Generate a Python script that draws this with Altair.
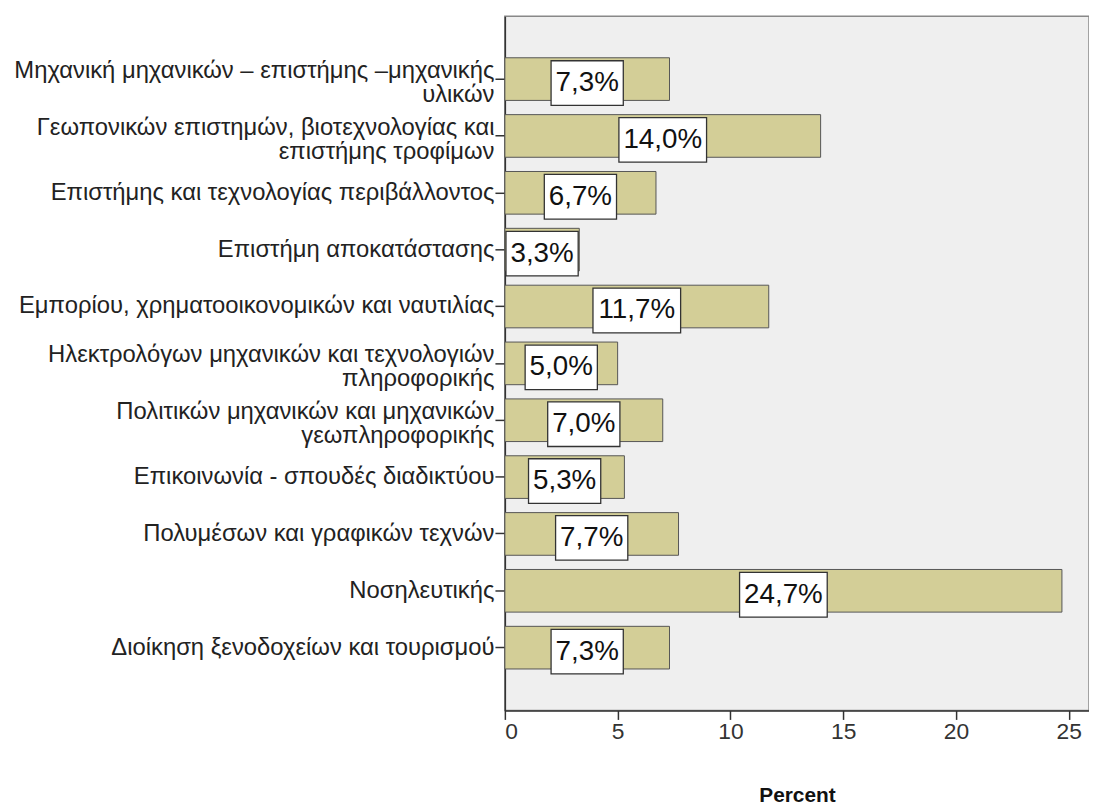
import altair as alt
import pandas as pd

categories = [
    "Μηχανική μηχανικών – επιστήμης –μηχανικής|υλικών",
    "Γεωπονικών επιστημών, βιοτεχνολογίας και|επιστήμης τροφίμων",
    "Επιστήμης και τεχνολογίας περιβάλλοντος",
    "Επιστήμη αποκατάστασης",
    "Εμπορίου, χρηματοοικονομικών και ναυτιλίας",
    "Ηλεκτρολόγων μηχανικών και τεχνολογιών|πληροφορικής",
    "Πολιτικών μηχανικών και μηχανικών|γεωπληροφορικής",
    "Επικοινωνία - σπουδές διαδικτύου",
    "Πολυμέσων και γραφικών τεχνών",
    "Νοσηλευτικής",
    "Διοίκηση ξενοδοχείων και τουρισμού",
]
percents = [7.3, 14.0, 6.7, 3.3, 11.7, 5.0, 7.0, 5.3, 7.7, 24.7, 7.3]
x_ticks = [0, 5, 10, 15, 20, 25]

df = pd.DataFrame({"cat": categories, "pct": percents})

W = 589
XMAX = 25.9
FS = 28

y_enc = alt.Y(
    "cat:N",
    sort=categories,
    scale=alt.Scale(paddingInner=0.25, paddingOuter=0.73),
    axis=alt.Axis(
        title=None,
        labelExpr="split(datum.label, '|')",
        labelFont="Liberation Sans",
        labelFontSize=24,
        labelColor="#222",
        labelLimit=700,
        labelPadding=1,
        labelLineHeight=24,
        labelOffset={"condition": {"test": "indexof(datum.value, '|') >= 0", "value": -8}, "value": 0},
        tickSize=10,
        tickColor="#333",
        tickWidth=1.5,
        domainColor="#333",
        domainWidth=1.5,
    ),
)

x_scale = alt.Scale(domain=[0, XMAX], nice=False, zero=True)

base = alt.Chart(df).transform_calculate(
    label="replace(format(datum.pct, '.1f'), '.', ',') + '%'",
).transform_calculate(
    mid="datum.pct / 2",
    halfw=f"(({FS} * (0.556 * (length(datum.label) - 2) + 0.278 + 0.889)) + 9) / 2 / ({W} / {XMAX})",
).transform_calculate(
    lo="datum.mid - datum.halfw",
    hi="datum.mid + datum.halfw",
)

bars = base.mark_bar(color="#D3CE97", stroke="#555555", strokeWidth=1).encode(
    x=alt.X(
        "pct:Q",
        scale=x_scale,
        axis=alt.Axis(
            values=x_ticks,
            title="Percent",
            titleFont="Liberation Sans",
            titleFontSize=21,
            titleFontWeight="bold",
            titleColor="#111",
            titlePadding=42,
            labelFont="Liberation Sans",
            labelFontSize=23,
            labelColor="#333",
            labelPadding=1,
            grid=False,
            tickSize=9,
            tickColor="#333",
            tickWidth=1.5,
            domainColor="#333",
            domainWidth=1.5,
        ),
    ),
    y=y_enc,
)

boxes = base.mark_bar(fill="white", stroke="#333333", strokeWidth=1.3, size=45, yOffset=4).encode(
    x=alt.X("lo:Q", scale=x_scale),
    x2="hi:Q",
    y=y_enc,
)

texts = base.mark_text(font="Liberation Sans", fontSize=FS, color="#111", dy=4, baseline="middle").encode(
    x=alt.X("mid:Q", scale=x_scale),
    y=y_enc,
    text="label:N",
)

chart = alt.layer(bars, boxes, texts).properties(
    width=W,
    height=700,
    padding={"left": 5, "top": 5, "right": 0, "bottom": 0},
).configure_view(fill="#EFEFEF", stroke="#888888", strokeWidth=1.5)

chart.save("out.html", embed_options={"renderer": "svg", "actions": False})
